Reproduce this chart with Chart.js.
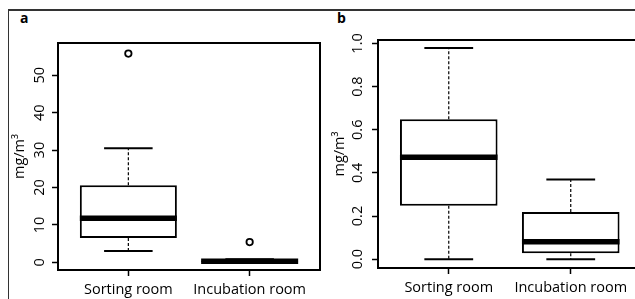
<!DOCTYPE html>
<html>
<head>
<meta charset="utf-8">
<script src="https://cdn.jsdelivr.net/npm/chart.js@4.4.0/dist/chart.umd.min.js"></script>
<style>
  html, body { margin: 0; padding: 0; background: #fff; overflow: hidden; width: 635px; height: 299px; }
  #frame { position: absolute; left: 8px; top: 9px; width: 640px; height: 300px;
           border-top: 2px solid #333; border-left: 1.5px solid #333; }
  canvas { position: absolute; top: 0; }
  #chartA { left: 0; }
  #chartB { left: 320px; }
  .tag { position: absolute; top: 11px; font: bold 14px 'Open Sans', sans-serif; line-height: 14px; color: #000; }
</style>
</head>
<body>
<div id="frame"></div>
<div class="tag" style="left:20px">a</div>
<div class="tag" style="left:337px">b</div>
<canvas id="chartA" width="330" height="299"></canvas>
<canvas id="chartB" width="330" height="299"></canvas>
<script>
const categories = ['Sorting room', 'Incubation room'];

// panel a (mg/m3)
const lowA = [3.0, 0.0];
const q1A = [6.5, 0.05];
const medA = [11.8, 0.25];
const q3A = [20.6, 0.5];
const highA = [30.5, 0.8];
const outliersA = [[55.8], [5.4]];
const yTicksA = [0, 10, 20, 30, 40, 50];

// panel b (mg/m3)
const lowB = [0.0, 0.0];
const q1B = [0.248, 0.027];
const medB = [0.472, 0.081];
const q3B = [0.649, 0.219];
const highB = [0.979, 0.369];
const outliersB = [[], []];
const yTicksB = [0, 0.2, 0.4, 0.6, 0.8, 1.0];

const INK = '#000';
const FONT = { family: 'Open Sans', size: 14.5 };
const BOX = 0.4;   // half box width, x units
const CAP = 0.2;   // half staple width

function seg(points, width, dash, order) {
    return {
        type: 'line', data: points, borderColor: INK, borderWidth: width,
        borderDash: dash, borderCapStyle: 'butt', pointRadius: 0, fill: false, order: order
    };
}

function buildDatasets(low, q1, med, q3, high, outliers) {
    const ds = [];
    ds.push({
        type: 'bar',
        data: categories.map((c, i) => ({ x: i + 1, y: [q1[i], q3[i]] })),
        backgroundColor: '#fff', borderColor: INK, borderWidth: 2, borderSkipped: false,
        categoryPercentage: 0.8, barPercentage: 1, order: 3
    });
    categories.forEach((c, i) => {
        const x = i + 1;
        ds.push(seg([{ x: x, y: q3[i] }, { x: x, y: high[i] }], 1.2, [3, 2], 4));
        ds.push(seg([{ x: x, y: q1[i] }, { x: x, y: low[i] }], 1.2, [3, 2], 4));
        ds.push(seg([{ x: x - CAP, y: high[i] }, { x: x + CAP, y: high[i] }], 2, [], 2));
        ds.push(seg([{ x: x - CAP, y: low[i] }, { x: x + CAP, y: low[i] }], 2, [], 2));
        ds.push(seg([{ x: x - BOX, y: med[i] }, { x: x + BOX, y: med[i] }], 5.5, [], 1));
    });
    ds.push({
        type: 'scatter',
        data: outliers.flatMap((vals, i) => vals.map(v => ({ x: i + 1, y: v }))),
        pointStyle: 'circle', pointRadius: 3.2, pointBorderWidth: 1.8,
        pointBorderColor: INK, pointBackgroundColor: '#fff', order: 0
    });
    return ds;
}

const plotBox = {
    id: 'plotBox',
    afterDraw(chart) {
        const { ctx, chartArea: a } = chart;
        ctx.save();
        ctx.strokeStyle = INK;
        ctx.lineWidth = 2;
        ctx.strokeRect(a.left, a.top, a.right - a.left, a.bottom - a.top);
        ctx.restore();
    }
};

function makeChart(id, datasets, yMin, yMax, yTicks, fmt, pad, xHeight) {
    return new Chart(document.getElementById(id), {
        type: 'bar',
        data: { datasets: datasets },
        plugins: [plotBox],
        options: {
            responsive: false,
            animation: false,
            layout: { padding: pad },
            plugins: { legend: { display: false }, tooltip: { enabled: false } },
            scales: {
                x: {
                    type: 'linear', min: 0.42, max: 2.58, bounds: 'data', offset: false,
                    afterBuildTicks: s => { s.ticks = categories.map((c, i) => ({ value: i + 1 })); },
                    afterFit: s => { s.height = xHeight; },
                    ticks: { callback: (v, i) => categories[i], font: FONT, color: INK, padding: 5, autoSkip: false, maxRotation: 0 },
                    grid: { offset: false, drawOnChartArea: false, drawTicks: true, tickLength: 6, tickColor: INK, tickWidth: 1.5 },
                    border: { display: true, color: INK, width: 2 }
                },
                y: {
                    type: 'linear', min: yMin, max: yMax, bounds: 'data',
                    afterBuildTicks: s => { s.ticks = yTicks.map(v => ({ value: v })); },
                    afterFit: s => { s.width = 58; },
                    ticks: { callback: fmt, font: FONT, color: INK, minRotation: 90, maxRotation: 90, crossAlign: 'center', padding: 4 },
                    grid: { drawOnChartArea: false, drawTicks: true, tickLength: 6, tickColor: INK, tickWidth: 1.5 },
                    border: { display: true, color: INK, width: 2 },
                    title: { display: true, text: 'mg/m³', font: FONT, color: INK, padding: { top: 11.6, bottom: 0 } }
                }
            }
        }
    });
}

makeChart('chartA', buildDatasets(lowA, q1A, medA, q3A, highA, outliersA),
    -2.06, 58.64, yTicksA, v => String(v), { left: 0, top: 43, right: 10, bottom: 0 }, 29);
makeChart('chartB', buildDatasets(lowB, q1B, medB, q3B, highB, outliersB),
    -0.041, 1.016, yTicksB, v => v.toFixed(1), { left: 0, top: 40, right: 8.5, bottom: 0 }, 31);
</script>
</body>
</html>
